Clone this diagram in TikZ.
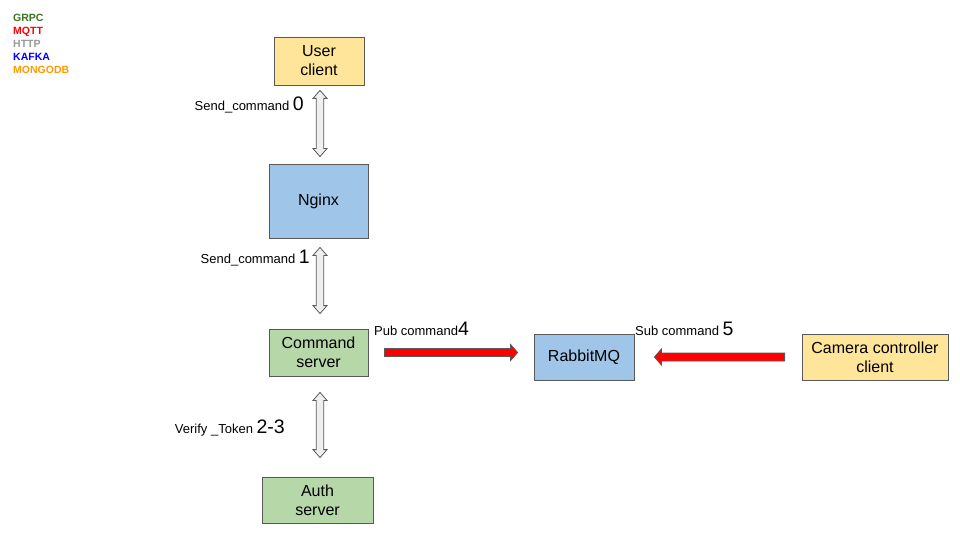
\documentclass[tikz,border=0pt]{standalone}
\usepackage{fontspec}
\setmainfont{Liberation Sans}
\usetikzlibrary{calc,positioning}
\definecolor{BoxYellow}{HTML}{FFE599}
\definecolor{BoxBlue}{HTML}{9FC5E8}
\definecolor{BoxGreen}{HTML}{B6D7A8}
\definecolor{EdgeGray}{HTML}{595959}
\definecolor{ArrowFill}{HTML}{EFEFEF}
\definecolor{GrpcGreen}{HTML}{38761D}
\definecolor{HttpGray}{HTML}{999999}
\definecolor{MongoOrange}{HTML}{FF9900}

% block arrow: style, tail, tip, half shaft, half head, head length
\newcommand{\blockarrow}[6]{%
	\coordinate (hb) at ($(#3)!#6!(#2)$);
	\draw[#1] ($(#2)!#4!90:(#3)$) -- ($(hb)!#4!90:(#3)$) -- ($(hb)!#5!90:(#3)$) -- (#3)
		-- ($(hb)!#5!-90:(#3)$) -- ($(hb)!#4!-90:(#3)$) -- ($(#2)!#4!-90:(#3)$) -- cycle;}
% two-way block arrow: style, end a, end b, half shaft, half head, head length
\newcommand{\twowayarrow}[6]{%
	\coordinate (hba) at ($(#2)!#6!(#3)$);
	\coordinate (hbb) at ($(#3)!#6!(#2)$);
	\draw[#1] (#2) -- ($(hba)!#5!90:(#3)$) -- ($(hba)!#4!90:(#3)$) -- ($(hbb)!#4!90:(#3)$) -- ($(hbb)!#5!90:(#3)$) -- (#3)
		-- ($(hbb)!#5!-90:(#3)$) -- ($(hbb)!#4!-90:(#3)$) -- ($(hba)!#4!-90:(#3)$) -- ($(hba)!#5!-90:(#3)$) -- cycle;}

\begin{document}
\begin{tikzpicture}[x=1pt,y=1pt,yscale=-1,xscale=1,
	box/.style={draw=EdgeGray, line width=0.8pt, align=center, font=\fontsize{16}{19}\selectfont, inner sep=0pt},
	hollow/.style={draw=EdgeGray, fill=ArrowFill, line width=0.8pt, line join=miter},
	redblock/.style={draw=EdgeGray, fill=red, line width=0.8pt, line join=miter},
	lbl/.style={font=\fontsize{13}{15}\selectfont, inner sep=0pt},
	legend/.style={font=\fontsize{10.5}{13}\selectfont\bfseries, anchor=base west, inner sep=0pt}]
		\useasboundingbox (0,0) rectangle (960,540);

		% Legend (top left)
		\node[legend, text=GrpcGreen] (lgrpc) at (13,22) {GRPC};
		\node[legend, text=red] (lmqtt) at (13,35) {MQTT};
		\node[legend, text=HttpGray] (lhttp) at (13,48) {HTTP};
		\node[legend, text=blue] (lkafka) at (13,61) {KAFKA};
		\node[legend, text=MongoOrange] (lmongo) at (13,74) {MONGODB};

		% Boxes
		\node[box, fill=BoxYellow, minimum width=90pt, minimum height=48pt] (user) at (319,61) {User\\client};
		\node[box, fill=BoxBlue, minimum width=99pt, minimum height=74pt] (nginx) at (318.5,201) {Nginx};
		\node[box, fill=BoxGreen, minimum width=99pt, minimum height=47pt] (cmd) at (318.5,352.5) {Command\\server};
		\node[box, fill=BoxGreen, minimum width=111pt, minimum height=46pt] (auth) at (317.5,500) {Auth\\server};
		\node[box, fill=BoxBlue, minimum width=100pt, minimum height=46pt] (rabbit) at (584,357) {RabbitMQ};
		\node[box, fill=BoxYellow, minimum width=146pt, minimum height=46pt] (camera) at (875,357) {Camera controller\\client};

		% Hollow double arrows between the boxes
		\coordinate (a0s) at ($(user.south)+(1,5)$);
		\coordinate (a0e) at ($(nginx.north)+(1.5,-7)$);
		\coordinate (a1s) at ($(nginx.south)+(1.5,9)$);
		\coordinate (a1e) at ($(cmd.north)+(1.5,-15)$);
		\coordinate (a23s) at ($(cmd.south)+(1.5,16)$);
		\coordinate (a23e) at ($(auth.north)+(2.5,-19)$);
		\twowayarrow{hollow}{a0s}{a0e}{3.75pt}{7pt}{8pt}
		\twowayarrow{hollow}{a1s}{a1e}{3.75pt}{7pt}{8pt}
		\twowayarrow{hollow}{a23s}{a23e}{3.75pt}{7pt}{8pt}

		% Red arrows to RabbitMQ
		\coordinate (a4s) at ($(cmd.east)+(16,0)$);
		\coordinate (a4e) at ($(a4s -| rabbit.west)+(-16,0)$);
		\coordinate (a5s) at ($(camera.west)+(-17,0)$);
		\coordinate (a5e) at ($(rabbit.east)+(20,0)$);
		\blockarrow{redblock}{a4s}{a4e}{4pt}{8pt}{7pt}
		\blockarrow{redblock}{a5s}{a5e}{4pt}{8pt}{7pt}

		% Arrow labels
		\node[lbl, anchor=base east] (l0) at (304,111) {Send\_command \fontsize{19.5}{22}\selectfont 0};
		\node[lbl, anchor=base east] (l1) at (310,263) {Send\_command \fontsize{19.5}{22}\selectfont 1};
		\node[lbl, anchor=base west] (l4) at (374,335) {Pub command\fontsize{19.5}{22}\selectfont 4};
		\node[lbl, anchor=base west] (l5) at (635,335) {Sub command \fontsize{19.5}{22}\selectfont 5};
		\node[lbl, anchor=base east] (l23) at (285,433) {Verify \_Token \fontsize{19.5}{22}\selectfont 2-3};
	\end{tikzpicture}
\end{document}
